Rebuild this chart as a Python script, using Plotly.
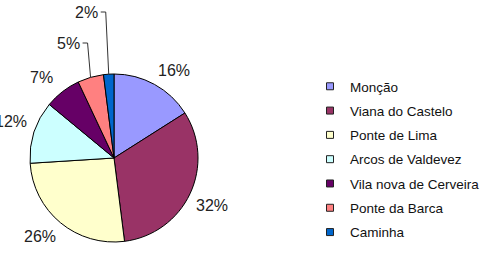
import math
import plotly.graph_objects as go

# ---- data ----
labels = ["Monção", "Viana do Castelo", "Ponte de Lima", "Arcos de Valdevez",
          "Vila nova de Cerveira", "Ponte da Barca", "Caminha"]
values = [16, 32, 26, 12, 7, 5, 2]
colors = ["#9999FF", "#993366", "#FFFFCC", "#CCFFFF", "#660066", "#FF8080", "#0066CC"]

# ---- layout constants (pixels) ----
W, H = 494, 256
CX, CY, R = 114, 158, 84
LABEL_R = 90          # distance of label anchor from centre
BOX_HW, BOX_HH = 17, 9  # push by half label box
STACK_STEP = 31
FONT = "Liberation Sans, Arial, sans-serif"


def px(x):
    return x / W


def py(y):
    return 1 - y / H


def sgn(v):
    return (v > 1e-9) - (v < -1e-9)


fig = go.Figure()
fig.add_trace(go.Pie(
    labels=labels, values=values, sort=False, direction="clockwise", rotation=0,
    marker=dict(colors=colors, line=dict(color="black", width=1)),
    textinfo="none", showlegend=False, hoverinfo="label+percent",
    domain=dict(x=[px(CX - R), px(CX + R)], y=[py(CY + R), py(CY - R)]),
))

# legend entries (one per category)
for i, (lab, col) in enumerate(zip(labels, colors)):
    fig.add_trace(go.Scatter(
        x=[None], y=[None], mode="markers", name=lab, legendgroup=f"g{i}",
        marker=dict(symbol="square", size=7, color=col, line=dict(color="#222222", width=1)),
        hoverinfo="skip",
    ))

total = sum(values)
annotations = []
shapes = []
cum = 0
k = 0
for v in values:
    frac = v / total
    mid = (cum + frac / 2) * 2 * math.pi
    cum += frac
    pct = f"{round(frac * 100)}%"
    ux, uy = math.sin(mid), -math.cos(mid)
    if frac * 100 < 6:
        k += 1
        ex, ey = CX + R * ux, CY + R * uy
        yl = CY - R - STACK_STEP * k
        shapes.append(dict(
            type="path", xref="paper", yref="paper",
            path=f"M {px(ex)} {py(ey)} L {px(ex - 3)} {py(yl)} L {px(ex - 8)} {py(yl)}",
            line=dict(color="#333333", width=1),
        ))
        annotations.append(dict(
            x=px(ex - 9), y=py(yl), xref="paper", yref="paper", text=pct,
            showarrow=False, xanchor="right", yanchor="middle",
            font=dict(family=FONT, size=16, color="#222222"),
        ))
    else:
        lx = CX + LABEL_R * ux + BOX_HW * sgn(ux)
        ly = CY + LABEL_R * uy + BOX_HH * sgn(uy)
        annotations.append(dict(
            x=px(lx), y=py(ly), xref="paper", yref="paper", text=pct,
            showarrow=False, xanchor="center", yanchor="middle",
            font=dict(family=FONT, size=16, color="#222222"),
        ))

fig.update_layout(
    width=W, height=H, margin=dict(l=0, r=0, t=0, b=0),
    paper_bgcolor="white", plot_bgcolor="white",
    xaxis=dict(visible=False), yaxis=dict(visible=False),
    annotations=annotations, shapes=shapes,
    legend=dict(
        x=px(310), y=py(71), xanchor="left", yanchor="top",
        font=dict(family=FONT, size=13.5, color="#111111"),
        traceorder="grouped", tracegroupgap=3.75,
        bgcolor="rgba(0,0,0,0)", borderwidth=0,
    ),
)

fig.write_html("out.html")
